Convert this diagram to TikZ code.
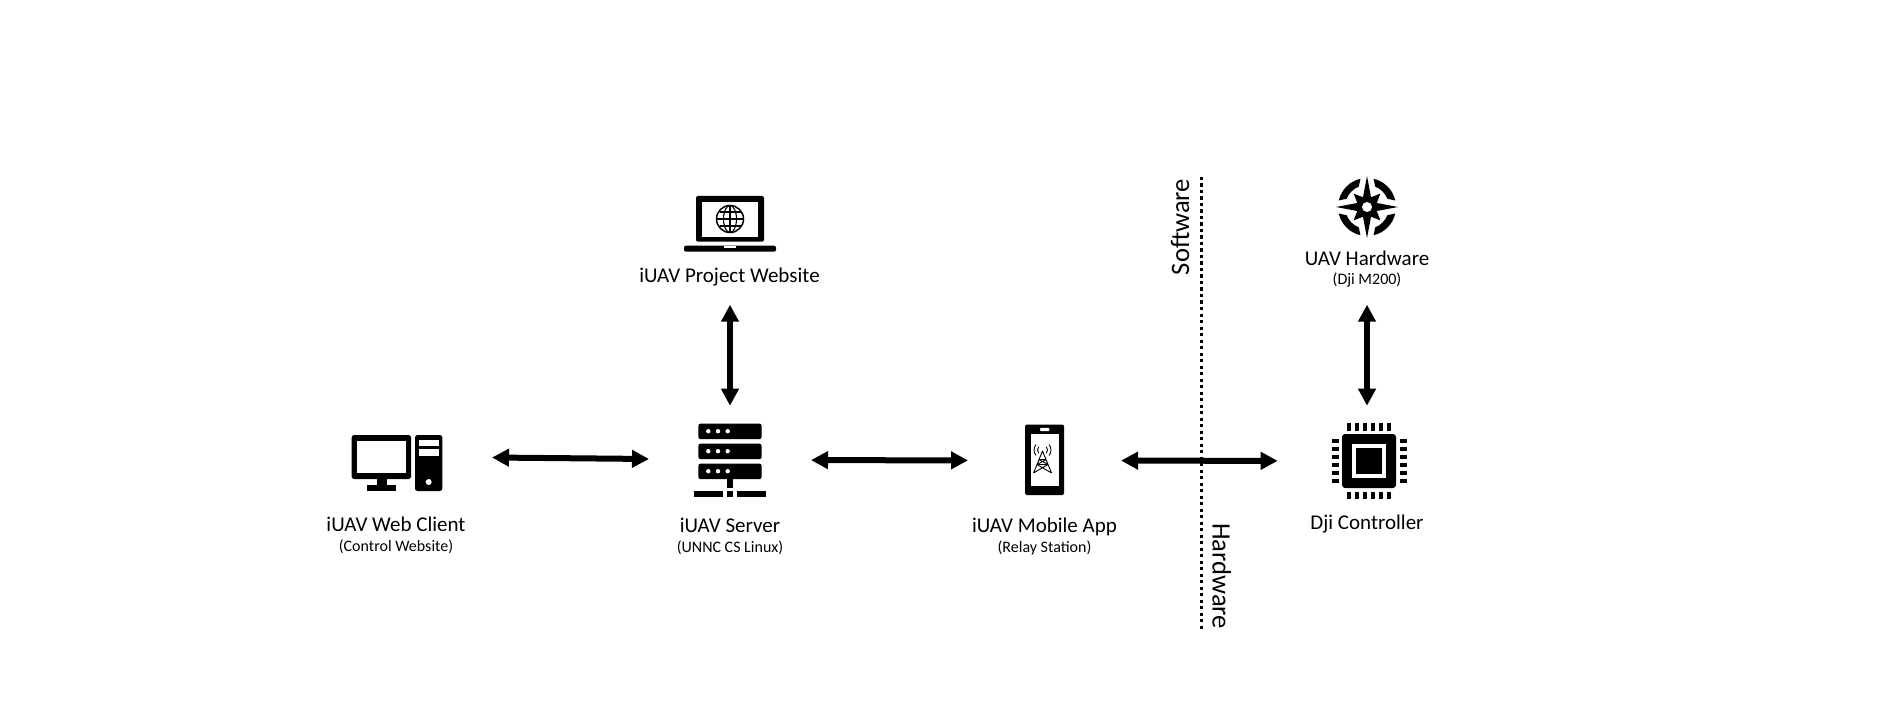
\documentclass[tikz,border=0pt]{standalone}
\usepackage{fontspec}
\setmainfont{Carlito}
\usetikzlibrary{positioning,arrows.meta,calc}
\tikzset{
  iconbox/.style={
    rectangle, inner sep=0pt, outer sep=0pt
  },
  mainlabel/.style={
    inner sep=0pt, font=\fontsize{21}{24}\selectfont
  },
  sublabel/.style={
    inner sep=0pt, font=\fontsize{16}{18}\selectfont
  },
  sidelabel/.style={
    inner sep=0pt, font=\fontsize{26.6}{30}\selectfont
  },
  arr/.style={
    {Triangle[length=17pt,width=17pt]}-{Triangle[length=17pt,width=17pt]}, line width=6pt, black
  },
  divider/.style={
    line width=3.2pt, dash pattern=on 3.2pt off 3.3pt, black
  },
  pics/webclient/.style={code={
    \fill[rounded corners=2.5pt] (-44.3,-23) rectangle (15,21);
    \fill[white] (-38.7,-17) rectangle (9.7,15.3);
    \fill (-18.7,21) rectangle (-9.3,27);
    \fill (-29.3,27) rectangle (0,32.7);
    \fill[rounded corners=2.5pt] (19,-23) rectangle (46.3,33);
    \fill[white] (23.3,-18) rectangle (43,-12.3);
    \fill[white] (23.3,-9) rectangle (43,-2.3);
    \fill[white] (32.7,24) circle[radius=3pt];
  }},
  pics/rackserver/.style={code={
    \foreach \y in {-36.5,-16.5,3.5} {
      \fill[rounded corners=2.5pt] (-31.7,\y) rectangle (31.7,\y+15.7);
      \foreach \x in {-21.7,-12,-2.3}
        \fill[white] (\x,\y+7.7) circle[radius=2.2pt];
    }
    \fill (-3.3,19) rectangle (3.3,28);
    \fill (-35.7,31) rectangle (-6.7,37.3);
    \fill (-3.3,31) rectangle (3.3,37.3);
    \fill (6.7,31) rectangle (35.7,37.3);
  }},
  pics/laptop/.style={code={
    \fill[rounded corners=2pt] (-34,-26) rectangle (34,19.7);
    \fill[white] (-28.3,-20.3) rectangle (28,14.7);
    \fill[rounded corners=2pt] (-46,23.7) rectangle (46,29.7);
    \fill[white] (-6,23.7) rectangle (6,26);
    \draw[line width=1.5pt] (0,-3) circle[radius=13.5pt];
    \draw[line width=1.1pt] (0,-3) ellipse[x radius=6.5pt, y radius=13.5pt];
    \draw[line width=1.1pt] (0,-16.5) -- (0,10.5);
    \draw[line width=1.1pt] (-13.5,-3) -- (13.5,-3);
    \draw[line width=1.1pt] (-10.5,-10) -- (10.5,-10);
    \draw[line width=1.1pt] (-10.5,4) -- (10.5,4);
  }},
  pics/phone/.style={code={
    \fill[rounded corners=1.5pt] (-19.3,-35.5) rectangle (19.5,35.2);
    \fill[white] (-13.8,-26.5) rectangle (14.5,25.5);
    \fill[white, rounded corners=1pt] (-4.5,-32.2) rectangle (4.8,-28.8);
    \draw[line width=0.9pt, line join=round] (-11,13) -- (-2,-9) -- (7,13)
      (-7.5,4.5) -- (3.5,4.5) (-5.5,-0.5) -- (1.5,-0.5)
      (-11,13) -- (3.5,4.5) -- (-5.5,-0.5) (7,13) -- (-7.5,4.5) -- (1.5,-0.5);
    \foreach \r in {5,8.5} {
      \draw[line width=0.9pt] ($(-2,-10)+(-40:\r pt)$) arc[start angle=-40, end angle=40, radius=\r pt];
      \draw[line width=0.9pt] ($(-2,-10)+(140:\r pt)$) arc[start angle=140, end angle=220, radius=\r pt];
    }
  }},
  pics/chip/.style={code={
    \fill[rounded corners=3pt] (-27,-27) rectangle (27,27);
    \fill[white] (-17,-17) rectangle (17,17);
    \fill (-13,-13) rectangle (13,13);
    \foreach \p in {-20,-12,-4,4,12,20} {
      \fill (\p-2.3,-37.7) rectangle (\p+2.3,-30.3);
      \fill (\p-2.3,31) rectangle (\p+2.3,38.3);
      \fill (-37.3,\p-2) rectangle (-30,\p+2);
      \fill (30.7,\p-2) rectangle (38,\p+2);
    }
  }},
  pics/compass/.style={code={
    \fill (0:31pt) \foreach \a in {0,90,180,270} {
      -- (\a+22.5:10.5pt) -- (\a+45:19pt) -- (\a+67.5:10.5pt) -- (\a+90:31pt)
    } -- cycle;
    \fill[white] (0,0) circle[radius=5pt];
    \foreach \a in {0,90,180,270}
      \fill (\a+13:29pt) arc[start angle=\a+13, end angle=\a+77, radius=29pt]
        -- (\a+68:22pt) arc[start angle=\a+68, end angle=\a+22, radius=22pt] -- cycle;
  }}
}
\begin{document}
\begin{tikzpicture}[x=1pt,y=-1pt]
\useasboundingbox (0,0) rectangle (1881,719);
% iconos
\node[iconbox, minimum width=192pt, minimum height=100pt] (client) at (396,457.5) {};
\node[iconbox, minimum width=162pt, minimum height=108.6pt] (server) at (730,460) {};
\node[iconbox, minimum width=100pt, minimum height=165.4pt] (project) at (730,222) {};
\node[iconbox, minimum width=153pt, minimum height=100pt] (app) at (1044.5,460.5) {};
\node[iconbox, minimum width=178.6pt, minimum height=110.6pt] (dji) at (1367,461) {};
\node[iconbox, minimum width=100pt, minimum height=195.4pt] (uav) at (1367,207) {};
\pic at ([yshift=-0.5pt]client.center) {webclient};
\pic at (server.center) {rackserver};
\pic at (project.center) {laptop};
\pic at ([yshift=0.5pt]app.center) {phone};
\pic at ([xshift=2pt]dji.center) {chip};
\pic at (uav.center) {compass};

% etiquetas
\node[mainlabel] (clientname) at (396,524) {iUAV Web Client};
\node[sublabel] (clientnote) at (396,547) {(Control Website)};
\node[mainlabel] (servername) at (730,525.5) {iUAV Server};
\node[sublabel] (servernote) at (730,548) {(UNNC CS Linux)};
\node[mainlabel] (projectname) at (729.5,277) {iUAV Project Website};
\node[mainlabel] (appname) at (1044.5,526.5) {iUAV Mobile App};
\node[sublabel] (appnote) at (1044.5,548) {(Relay Station)};
\node[mainlabel] (djiname) at (1367,524) {Dji Controller};
\node[mainlabel] (uavname) at (1367,258) {UAV Hardware};
\node[sublabel] (uavnote) at (1367,280) {(Dji M200)};
\node[sidelabel, rotate=90] (softlabel) at (1180,227) {Software};
\node[sidelabel, rotate=-90] (hardlabel) at (1221.7,576) {Hardware};

% divisor
\coordinate (divtop) at (1201.3,177);
\coordinate (divbot) at (1201.3,630.7);
\draw[divider] (divtop) -- (divbot);

% aristas
\draw[arr] (project) -- (server);
\draw[arr] (client.east) -- ([yshift=1pt]server.west);
\draw[arr] (server) -- (app);
\draw[arr] (app) -- (dji);
\draw[arr] (uav) -- (dji);
\end{tikzpicture}
\end{document}
